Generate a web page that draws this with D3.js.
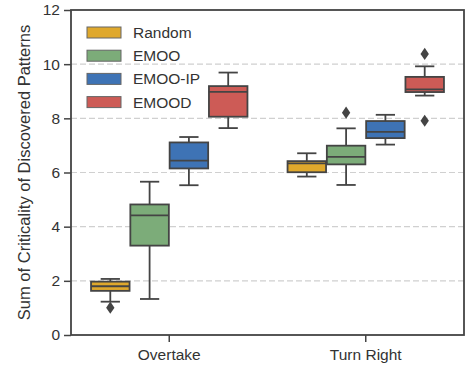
<!DOCTYPE html>
<html>
<head>
<meta charset="utf-8">
<script src="https://cdn.jsdelivr.net/npm/d3@7"></script>
<style>
  body { margin: 0; background: #fff; }
  text { font-family: "Liberation Sans", Arial, sans-serif; fill: #333; }
</style>
</head>
<body>
<div id="chart"></div>
<script>
// scenarios on the x axis and the compared methods
const scenarios = ['Overtake', 'Turn Right'];
const methods = ['Random', 'EMOO', 'EMOO-IP', 'EMOOD'];
const colors = ['#dfa82c', '#7cac79', '#3e73b5', '#cd5b56'];
const yTicks = [0, 2, 4, 6, 8, 10, 12];

// box stats per method: [whiskerLow, q1, median, q3, whiskerHigh], one row per scenario
const randomStats = [[1.23, 1.63, 1.8, 1.97, 2.07], [5.85, 6.01, 6.34, 6.42, 6.71]];
const emooStats = [[1.33, 3.30, 4.42, 4.82, 5.66], [5.54, 6.30, 6.58, 6.99, 7.63]];
const emooIpStats = [[5.53, 6.15, 6.44, 7.11, 7.31], [7.03, 7.27, 7.50, 7.90, 8.13]];
const emoodStats = [[7.64, 8.06, 8.98, 9.19, 9.69], [8.84, 8.97, 9.07, 9.53, 9.92]];

// outliers per method, one list per scenario
const randomOutliers = [[1.01], []];
const emooOutliers = [[], [8.21]];
const emooIpOutliers = [[], []];
const emoodOutliers = [[], [10.38, 7.91]];

const allStats = [randomStats, emooStats, emooIpStats, emoodStats];
const allOutliers = [randomOutliers, emooOutliers, emooIpOutliers, emoodOutliers];

const width = 466, height = 368;
const margin = { top: 10, right: 2, bottom: 33, left: 71 };
const lineColor = '#444';

const svg = d3.select('#chart').append('svg')
  .attr('width', width)
  .attr('height', height);

const x = d3.scaleBand().domain(scenarios).range([margin.left, width - margin.right]);
const xInner = d3.scaleBand().domain(methods).range([0, x.bandwidth() * 0.8]);
const y = d3.scaleLinear().domain([0, 12]).range([height - margin.bottom, margin.top]);

// dashed grid lines
svg.append('g')
  .selectAll('line')
  .data(yTicks.filter(t => t > 0 && t < 12))
  .enter()
  .append('line')
  .attr('x1', margin.left)
  .attr('x2', width - margin.right)
  .attr('y1', d => y(d))
  .attr('y2', d => y(d))
  .style('stroke', '#d0d0d0')
  .style('stroke-width', 1.2)
  .style('stroke-dasharray', '6,3');

// boxes
const boxW = xInner.bandwidth() * 0.98;
scenarios.forEach((sc, si) => {
  methods.forEach((m, mi) => {
    const s = allStats[mi][si];
    const cx = x(sc) + x.bandwidth() * 0.1 + xInner(m) + xInner.bandwidth() / 2;
    const g = svg.append('g');

    // whiskers
    g.append('line')
      .attr('x1', cx).attr('x2', cx)
      .attr('y1', y(s[0])).attr('y2', y(s[1]))
      .style('stroke', lineColor).style('stroke-width', 1.8);
    g.append('line')
      .attr('x1', cx).attr('x2', cx)
      .attr('y1', y(s[3])).attr('y2', y(s[4]))
      .style('stroke', lineColor).style('stroke-width', 1.8);
    [s[0], s[4]].forEach(v => {
      g.append('line')
        .attr('x1', cx - boxW / 4).attr('x2', cx + boxW / 4)
        .attr('y1', y(v)).attr('y2', y(v))
        .style('stroke', lineColor).style('stroke-width', 1.8);
    });

    g.append('rect')
      .attr('x', cx - boxW / 2)
      .attr('y', y(s[3]))
      .attr('width', boxW)
      .attr('height', y(s[1]) - y(s[3]))
      .style('fill', colors[mi])
      .style('stroke', lineColor)
      .style('stroke-width', 1.8);

    g.append('line')
      .attr('x1', cx - boxW / 2).attr('x2', cx + boxW / 2)
      .attr('y1', y(s[2])).attr('y2', y(s[2]))
      .style('stroke', lineColor).style('stroke-width', 1.8);

    // outliers as diamonds
    g.selectAll('.outlier')
      .data(allOutliers[mi][si])
      .enter()
      .append('path')
      .attr('class', 'outlier')
      .attr('d', d3.symbol().type(d3.symbolDiamond).size(42))
      .attr('transform', d => `translate(${cx},${y(d)}) scale(1.2,1)`)
      .style('fill', lineColor);
  });
});

// axes
const yAxis = svg.append('g')
  .attr('transform', `translate(${margin.left},0)`)
  .call(d3.axisLeft(y).tickValues(yTicks).tickSize(7).tickPadding(4));
yAxis.selectAll('text').style('font-size', '15.5px');

const xAxis = svg.append('g')
  .attr('transform', `translate(0,${height - margin.bottom})`)
  .call(d3.axisBottom(x).tickSize(7).tickPadding(7));
xAxis.selectAll('text').style('font-size', '15.5px');

svg.selectAll('.domain').remove();
svg.selectAll('.tick line').style('stroke', lineColor).style('stroke-width', 1.5);

// frame
svg.append('rect')
  .attr('x', margin.left)
  .attr('y', margin.top)
  .attr('width', width - margin.right - margin.left)
  .attr('height', height - margin.bottom - margin.top)
  .style('fill', 'none')
  .style('stroke', lineColor)
  .style('stroke-width', 1.8);

// y label
svg.append('text')
  .attr('transform', `translate(30,${(margin.top + height - margin.bottom) / 2}) rotate(-90)`)
  .attr('text-anchor', 'middle')
  .style('font-size', '16.5px')
  .text('Sum of Criticality of Discovered Patterns');

// legend
const legend = svg.append('g').attr('transform', 'translate(87,27)');
methods.forEach((m, i) => {
  const row = legend.append('g').attr('transform', `translate(0,${i * 23.2})`);
  row.append('rect')
    .attr('width', 34)
    .attr('height', 11)
    .style('fill', colors[i])
    .style('stroke', '#666')
    .style('stroke-width', 1);
  row.append('text')
    .attr('x', 46)
    .attr('y', 11)
    .style('font-size', '15.5px')
    .text(m);
});
</script>
</body>
</html>
